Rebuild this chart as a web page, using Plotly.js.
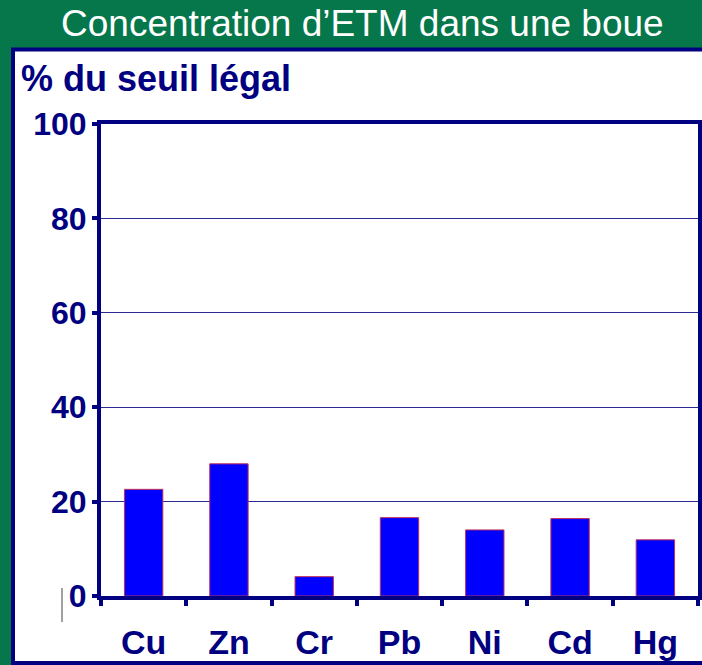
<!DOCTYPE html>
<html><head><meta charset="utf-8">
<script src="https://cdn.plot.ly/plotly-3.0.1.min.js"></script>
<style>html,body{margin:0;padding:0;background:#06774b;}#chart{width:702px;height:665px;}</style>
</head><body><div id="chart"></div>
<script>
const categories = ["Cu", "Zn", "Cr", "Pb", "Ni", "Cd", "Hg"];
const values = [22.6, 28.0, 4.1, 16.6, 14.0, 16.4, 11.9];
const yTicks = [0, 20, 40, 60, 80, 100];
const chartTitle = "Concentration d’ETM dans une boue";
const yTitle = "% du seuil légal";

const W = 702, H = 665;
const L = 101, R = 4, T = 124, B = 69;
const pw = W - L - R, ph = H - T - B;
const px = x => (x - L) / pw;
const py = y => (H - B - y) / ph;
const navy = "#000080";

const trace = {
  type: "bar",
  x: categories,
  y: values,
  width: 0.45,
  marker: {color: "#0000ff", line: {color: "#c0305a", width: 1}},
  hoverinfo: "x+y"
};

const layout = {
  width: W, height: H,
  margin: {l: L, r: R, t: T, b: B, pad: 0},
  paper_bgcolor: "#06774b",
  plot_bgcolor: "#ffffff",
  showlegend: false,
  font: {family: "Liberation Sans, Arial, sans-serif", color: navy},
  xaxis: {
    type: "category",
    tickson: "boundaries",
    ticks: "outside", ticklen: 6, tickwidth: 4, tickcolor: navy,
    showline: true, linecolor: navy, linewidth: 4, mirror: true,
    showgrid: false,
    tickfont: {family: "Liberation Sans, Arial, sans-serif", size: 34, color: navy, weight: "bold"},
    ticklabelstandoff: 13,
    fixedrange: true
  },
  yaxis: {
    range: [0, 100],
    tickvals: yTicks,
    ticks: "outside", ticklen: 5, tickwidth: 4, tickcolor: navy,
    showline: true, linecolor: navy, linewidth: 4, mirror: true,
    showgrid: true, gridcolor: "#2a2a90", gridwidth: 1,
    zeroline: false,
    tickfont: {family: "Liberation Sans, Arial, sans-serif", size: 32, color: navy, weight: "bold"},
    ticklabelstandoff: -1,
    fixedrange: true
  },
  shapes: [
    {type: "rect", xref: "paper", yref: "paper", layer: "below",
     x0: px(13), x1: px(712), y0: py(663), y1: py(49.5),
     fillcolor: "#ffffff", line: {color: navy, width: 4}},
    {type: "line", xref: "paper", yref: "paper", layer: "above",
     x0: px(62), x1: px(62), y0: py(588), y1: py(622),
     line: {color: "#808080", width: 1.5}}
  ],
  annotations: [
    {text: chartTitle, xref: "paper", yref: "paper", x: px(362), y: py(23),
     xanchor: "center", yanchor: "middle", showarrow: false,
     font: {family: "Liberation Sans, Arial, sans-serif", size: 37, color: "#ffffff"}},
    {text: yTitle, xref: "paper", yref: "paper", x: px(19), y: py(79),
     xanchor: "left", yanchor: "middle", showarrow: false,
     font: {family: "Liberation Sans, Arial, sans-serif", size: 36, color: navy, weight: "bold"}}
  ]
};

Plotly.newPlot("chart", [trace], layout, {displayModeBar: false, staticPlot: true});
</script></body></html>
